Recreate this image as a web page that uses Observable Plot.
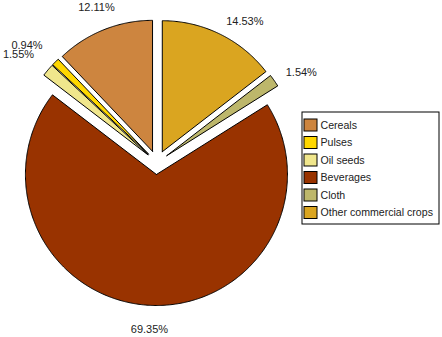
<!DOCTYPE html>
<html>
<head>
<meta charset="utf-8">
<script src="https://cdn.jsdelivr.net/npm/d3@7"></script>
<script src="https://cdn.jsdelivr.net/npm/@observablehq/plot@0.6"></script>
<style>
  html, body { margin: 0; padding: 0; background: #fff; }
</style>
</head>
<body>
<div id="chart"></div>
<script>
const categories = ["Cereals", "Pulses", "Oil seeds", "Beverages", "Cloth", "Other commercial crops"];
const shares = [12.11, 0.94, 1.55, 69.35, 1.54, 14.53];
const sliceLabels = ["12.11%", "0.94%", "1.55%", "69.35%", "1.54%", "14.53%"];
const colors = ["#CD853F", "#FFD700", "#F0E68C", "#993300", "#BDB76B", "#DAA520"];

const W = 442, H = 337;
const cx = 156.5, cy = 162, r = 131, explode = 12, labelR = 157;
const total = d3.sum(shares);

// angles measured counter-clockwise from 12 o'clock
let acc = 0;
const slices = shares.map((v, i) => {
  const a0 = acc / total * 2 * Math.PI;
  acc += v;
  const a1 = acc / total * 2 * Math.PI;
  return {category: categories[i], value: v, label: sliceLabels[i], color: colors[i], a0, a1, mid: (a0 + a1) / 2};
});

const pt = (a, rad, ox = 0, oy = 0) => ({x: ox + cx - rad * Math.sin(a), y: oy + cy - rad * Math.cos(a)});

const marks = [];
for (const s of slices) {
  const ox = -explode * Math.sin(s.mid), oy = -explode * Math.cos(s.mid);
  const pts = [pt(0, 0, ox, oy)];
  const n = Math.max(2, Math.ceil((s.a1 - s.a0) / (Math.PI / 360)));
  for (let k = 0; k <= n; k++) pts.push(pt(s.a0 + (s.a1 - s.a0) * k / n, r, ox, oy));
  pts.push(pt(0, 0, ox, oy));
  marks.push(Plot.line(pts, {x: "x", y: "y", fill: s.color, stroke: "#000", strokeWidth: 1, curve: "linear"}));
}

for (const s of slices) {
  const sx = -Math.sin(s.mid), cyv = Math.cos(s.mid);
  let textAnchor, lineAnchor, rad;
  if (Math.abs(sx) < 0.4) {
    textAnchor = "middle";
    lineAnchor = cyv > 0 ? "bottom" : "top";
    rad = labelR + 6;
  } else if (sx > 0) {
    textAnchor = "start"; lineAnchor = "middle"; rad = labelR;
  } else {
    textAnchor = "end"; lineAnchor = "bottom"; rad = labelR + 4;
  }
  const p = pt(s.mid, rad);
  marks.push(Plot.text([{...p, label: s.label}], {x: "x", y: "y", text: "label", textAnchor, lineAnchor, fill: "#222", fontSize: 11}));
}

// legend
const legend = categories.map((c, i) => ({category: c, color: colors[i], row: i}));
const lgX1 = 302, lgX2 = 439, lgY1 = 112, lgY2 = 224, rowY0 = 125, rowStep = 17.5;
marks.push(Plot.rect([{}], {x1: () => lgX1, x2: () => lgX2, y1: () => lgY1, y2: () => lgY2, fill: "#fff", stroke: "#000", strokeWidth: 1}));
marks.push(Plot.rect(legend, {x1: () => 304, x2: () => 317, y1: d => rowY0 + d.row * rowStep - 6, y2: d => rowY0 + d.row * rowStep + 6, fill: "color", stroke: "#000", strokeWidth: 1}));
marks.push(Plot.text(legend, {x: () => 320, y: d => rowY0 + d.row * rowStep, text: "category", textAnchor: "start", lineAnchor: "middle", fill: "#222", fontSize: 10.6}));

const chart = Plot.plot({
  width: W,
  height: H,
  margin: 0,
  x: {domain: [0, W], range: [0, W], axis: null},
  y: {domain: [0, H], range: [0, H], axis: null},
  color: {type: "identity"},
  style: {fontFamily: "'Liberation Sans', Arial, sans-serif", fontSize: "11px", background: "#fff"},
  marks
});
document.getElementById("chart").appendChild(chart);
</script>
</body>
</html>
